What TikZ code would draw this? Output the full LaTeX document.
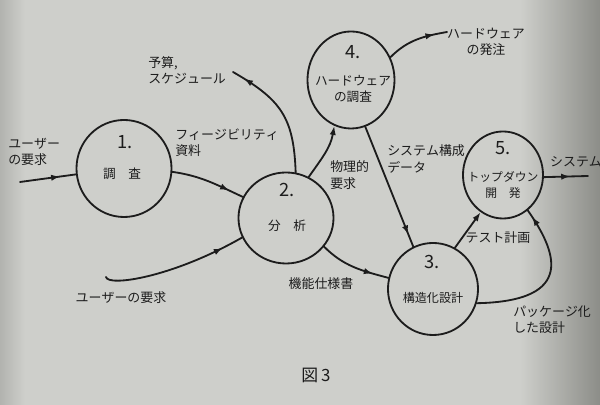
\documentclass[tikz,border=0pt]{standalone}
\usepackage{fontspec}
\setmainfont[Kerning=Off]{Noto Sans CJK JP}
\usetikzlibrary{arrows.meta,decorations.markings,shapes.geometric}

\definecolor{paper}{RGB}{206,207,203}
\definecolor{paperdark}{RGB}{140,141,136}
\definecolor{paperedge}{RGB}{178,179,175}
\definecolor{ink}{RGB}{28,28,28}

\tikzset{
  proc/.style={ellipse, draw=ink, line width=1.3pt, inner sep=0pt},
  lbl/.style={text=ink, font=\fontsize{9.2}{11.5}\selectfont, align=left, inner sep=0pt},
  inlbl/.style={text=ink, font=\fontsize{9}{11.5}\selectfont, align=center, inner sep=0pt},
  num/.style={text=ink, font=\fontsize{13}{14}\selectfont, inner sep=0pt},
  flow/.style={ink, line width=1.3pt, line cap=round},
  midarrow/.style={decoration={markings,
      mark=at position #1 with {\arrow{Latex[length=6.5pt,width=4.5pt]}}},
    postaction={decorate}},
  tipend/.style={-{Latex[length=6.5pt,width=4.5pt]}}
}

\begin{document}
\begin{tikzpicture}[x=0.025cm, y=0.025cm]
  % paper
  \useasboundingbox (0,0) rectangle (600,405);
  \fill[paper] (0,0) rectangle (600,405);
  \shade[left color=paper, right color=paperdark] (520,0) rectangle (600,405);
  \shade[left color=paperedge, right color=paper] (0,0) rectangle (25,405);

  % processes
  \node[proc, minimum width=2.375cm, minimum height=2.425cm] (c1) at (124,236.5) {};
  \node[proc, minimum width=2.375cm, minimum height=2.275cm] (c2) at (286,187) {};
  \node[proc, minimum width=2.25cm,  minimum height=2.3cm]   (c3) at (433,116) {};
  \node[proc, minimum width=2.175cm, minimum height=2.425cm] (c4) at (351,325) {};
  \node[proc, minimum width=2.0cm,   minimum height=2.175cm] (c5) at (503,230) {};

  % process texts
  \node[num] (n1) at (125,263) {1.};
  \node[inlbl] (t1) at (122,231) {調　査};
  \node[num] (n2) at (287,215) {2.};
  \node[inlbl] (t2) at (287,179) {分　析};
  \node[num] (n3) at (432,143) {3.};
  \node[inlbl, font=\fontsize{8.6}{11}\selectfont] (t3) at (433,107) {構造化設計};
  \node[num] (n4) at (353,353) {4.};
  \node[inlbl, font=\fontsize{9}{12}\selectfont] (t4) at (353,316) {ハードウェア\\の調査};
  \node[num] (n5) at (503,257) {5.};
  \node[inlbl, font=\fontsize{8.4}{11.4}\selectfont] (t5) at (503,220) {トップダウン\\開　発};

  % free ends
  \coordinate (in1) at (20,223);
  \coordinate (bud) at (233,333);
  \coordinate (ord) at (447,373);
  \coordinate (sys) at (588,229);
  \coordinate (u2)  at (106,128);

  % data flows
  \draw[flow, midarrow=0.72] (in1) -- (c1.187);
  \draw[flow, midarrow=0.8] (c1.-4) to[out=-8,in=155] (c2.154);
  \draw[flow, midarrow=0.9] (c2.78) to[out=92,in=-30,looseness=1.2] (bud);
  \draw[flow, tipend] (c2.61) to[out=55,in=-100] (c4.250);
  \draw[flow, midarrow=0.9] (c4.287) -- (c3.115);
  \draw[flow, midarrow=0.8] (c4.30) to[out=45,in=190] (ord);
  \draw[flow, midarrow=0.78] (c2.-37) to[out=-45,in=165] (c3.166);
  \draw[flow, tipend] (c3.62) -- (c5.239);
  \draw[flow, midarrow=0.95] (c3.-18) .. controls +(101,2) and +(28,-40) .. (c5.-55);
  \draw[flow, midarrow=0.6] (c5.-3) -- (sys);
  \draw[flow, midarrow=0.85] (u2) .. controls +(2,-10) and +(-70,-40) .. (c2.204);

  % flow labels
  \node[lbl, anchor=west] (l1) at (8,253.5) {ユーザー\\の要求};
  \node[lbl, anchor=west] (l2) at (175,262.5) {フィージビリティ\\資料};
  \node[lbl, anchor=west] (l3) at (148,334.5) {予算,\\スケジュール};
  \node[lbl, anchor=west] (l4) at (330,230) {物理的\\要求};
  \node[lbl, anchor=west] (l5) at (387,246) {システム構成\\データ};
  \node[lbl, align=center] (l6) at (486,363.5) {ハードウェア\\の発注};
  \node[lbl] (l7) at (321,121) {機能仕様書};
  \node[lbl] (l8) at (498,167) {テスト計画};
  \node[lbl, anchor=west] (l9) at (513,85) {パッケージ化\\した設計};
  \node[lbl] (l10) at (576,243) {システム};
  \node[lbl] (l11) at (121,107) {ユーザーの要求};

  % caption
  \node[text=ink, font=\fontsize{12}{14}\selectfont, inner sep=0pt] (cap) at (316,30) {図\,3};
\end{tikzpicture}
\end{document}
